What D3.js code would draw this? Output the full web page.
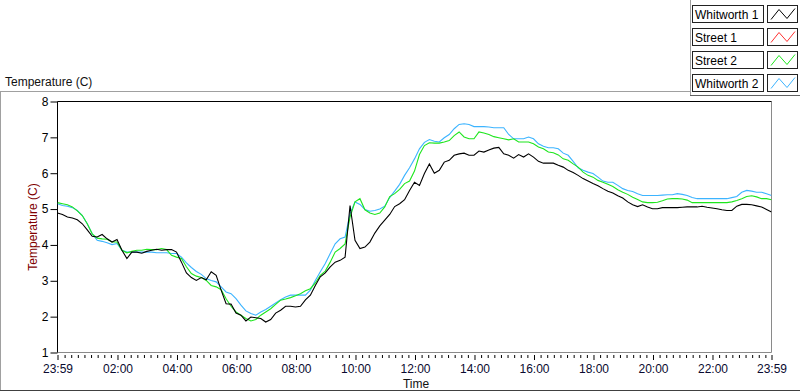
<!DOCTYPE html>
<html>
<head>
<meta charset="utf-8">
<script src="https://cdn.jsdelivr.net/npm/d3@7"></script>
<style>
body { margin: 0; background: #fff; }
text { font-family: "Liberation Sans", Arial, sans-serif; }
</style>
</head>
<body>
<div id="chart"></div>
<script>
// series, one sample every 10 minutes from 23:59
const seriesNames = ['Whitworth 1', 'Street 1', 'Street 2', 'Whitworth 2'];
const seriesColors = ['#000000', '#ff3030', '#1ee61e', '#3cb4ff'];
const startStamp = '2013-01-01 23:59';
const stepMinutes = 10;

const whitworth1 = [
    4.89, 4.85, 4.78, 4.75, 4.70, 4.59, 4.42, 4.24, 4.22, 4.29, 4.17, 4.08, 4.15, 3.85, 3.62, 3.80, 3.80, 3.77, 3.82, 3.85,
    3.88, 3.85, 3.87, 3.87, 3.80, 3.52, 3.22, 3.09, 3.01, 3.09,
    3.03, 3.25, 3.15, 2.74, 2.36, 2.35, 2.10, 2.04, 1.88, 1.99, 1.97, 1.95, 1.85, 1.92, 2.10, 2.18, 2.29, 2.29, 2.27, 2.29,
    2.47, 2.60, 2.87, 3.11, 3.22, 3.39, 3.52, 3.57, 3.66,
    5.10, 4.13, 3.90, 3.94, 4.08, 4.33, 4.53, 4.69, 4.85, 5.07, 5.15, 5.26, 5.52, 5.75, 5.66, 5.99, 6.26, 6.00, 6.08, 6.31,
    6.36, 6.50, 6.54, 6.56, 6.50, 6.50, 6.62, 6.59, 6.65, 6.70,
    6.72, 6.54, 6.50, 6.42, 6.52, 6.45, 6.54, 6.45, 6.33, 6.28, 6.28, 6.28, 6.22, 6.17, 6.08, 6.02, 5.94, 5.85, 5.78, 5.71,
    5.65, 5.57, 5.50, 5.45, 5.37, 5.31, 5.20, 5.12, 5.07,
    5.12, 5.06, 5.01, 5.01, 5.04, 5.04, 5.04, 5.04, 5.05, 5.06, 5.06, 5.06, 5.08, 5.05, 5.03, 5.01, 4.98, 4.96, 4.96, 5.08,
    5.13, 5.13, 5.12, 5.09, 5.06, 4.99, 4.92
];
const street1 = [];
const street2 = [
    5.18, 5.15, 5.12, 5.06, 4.95, 4.82, 4.59, 4.31, 4.19, 4.17, 4.16, 4.08, 4.08, 3.85, 3.78, 3.82, 3.85, 3.85, 3.88, 3.87,
    3.87, 3.90, 3.87, 3.71, 3.66, 3.62, 3.39, 3.20, 3.13, 3.09,
    3.01, 2.87, 2.83, 2.75, 2.50, 2.29, 2.13, 2.04, 1.95, 1.88, 1.92, 2.04, 2.13, 2.22, 2.34, 2.46, 2.49, 2.53, 2.58, 2.64,
    2.72, 2.78, 2.94, 3.15, 3.27, 3.52, 3.80, 3.90, 4.03,
    4.78, 5.20, 5.29, 4.98, 4.89, 4.85, 4.89, 5.06, 5.35, 5.43, 5.55, 5.71, 5.78, 6.06, 6.52, 6.77, 6.85, 6.84, 6.84, 6.87,
    6.91, 7.05, 7.15, 7.01, 6.96, 6.96, 7.15, 7.12, 7.08, 7.02,
    6.99, 6.96, 6.93, 6.96, 6.87, 6.87, 6.87, 6.82, 6.73, 6.68, 6.59, 6.57, 6.51, 6.40, 6.36, 6.26, 6.17, 6.03, 5.94, 5.89,
    5.80, 5.75, 5.69, 5.63, 5.54, 5.47, 5.41, 5.33, 5.27,
    5.20, 5.18, 5.18, 5.19, 5.23, 5.28, 5.29, 5.29, 5.28, 5.25, 5.18, 5.18, 5.18, 5.18, 5.18, 5.18, 5.18, 5.18, 5.20, 5.24,
    5.29, 5.35, 5.37, 5.34, 5.29, 5.29, 5.26
];
const whitworth2 = [
    5.15, 5.10, 5.08, 5.04, 4.96, 4.82, 4.59, 4.31, 4.13, 4.10, 4.06, 4.01, 4.04, 3.85, 3.80, 3.80, 3.80, 3.80, 3.80, 3.80,
    3.78, 3.78, 3.78, 3.76, 3.76, 3.66, 3.50, 3.37, 3.26, 3.18,
    3.06, 3.01, 2.97, 2.83, 2.69, 2.64, 2.50, 2.32, 2.16, 2.09, 2.04, 2.13, 2.20, 2.29, 2.38, 2.47, 2.55, 2.60, 2.60, 2.60,
    2.60, 2.74, 3.01, 3.25, 3.48, 3.76, 4.03, 4.17, 4.22,
    4.87, 5.20, 5.13, 4.99, 4.94, 4.96, 5.00, 5.08, 5.32, 5.50, 5.69, 5.94, 6.15, 6.40, 6.68, 6.86, 6.94, 6.89, 6.87, 6.99,
    7.08, 7.24, 7.36, 7.38, 7.36, 7.30, 7.30, 7.30, 7.29, 7.27,
    7.27, 7.27, 7.08, 6.96, 6.96, 6.96, 7.01, 6.96, 6.82, 6.75, 6.71, 6.71, 6.68, 6.56, 6.50, 6.33, 6.15, 6.08, 6.03, 5.99,
    5.89, 5.78, 5.75, 5.75, 5.66, 5.57, 5.52, 5.49, 5.43,
    5.38, 5.38, 5.38, 5.38, 5.39, 5.40, 5.40, 5.43, 5.41, 5.38, 5.32, 5.29, 5.29, 5.29, 5.29, 5.29, 5.29, 5.29, 5.32, 5.35,
    5.47, 5.52, 5.50, 5.47, 5.47, 5.43, 5.38
];

const yTicks = [1, 2, 3, 4, 5, 6, 7, 8];
const xTickLabels = ['23:59', '02:00', '04:00', '06:00', '08:00', '10:00', '12:00', '14:00',
    '16:00', '18:00', '20:00', '22:00', '23:59'];

const width = 800, height = 392;
const plot = { left: 57.5, right: 771.5, top: 101.5, bottom: 352.5 };

const parse = d3.timeParse('%Y-%m-%d %H:%M');
const t0 = parse(startStamp);
const dayAfter = '2013-01-02 ';
const tickTimes = xTickLabels.map((l, i) => i === 0 ? t0 : parse(dayAfter + l));
const t1 = tickTimes[tickTimes.length - 1];

const svg = d3.select('#chart').append('svg')
    .attr('width', width)
    .attr('height', height);

const x = d3.scaleTime().domain([t0, t1]).range([plot.left, plot.right]);
const y = d3.scaleLinear().domain([1, 8]).range([plot.bottom, plot.top]);

// outer frame
svg.append('line').attr('x1', 0).attr('x2', 690).attr('y1', 91.5).attr('y2', 91.5).attr('stroke', '#a0a0a0');
svg.append('line').attr('x1', 0.5).attr('x2', 0.5).attr('y1', 91).attr('y2', 391).attr('stroke', '#a0a0a0');
svg.append('line').attr('x1', 0).attr('x2', width).attr('y1', 390.5).attr('y2', 390.5).attr('stroke', '#404040');

svg.append('text').attr('x', 5).attr('y', 86).attr('font-size', 12).attr('fill', '#111').text('Temperature (C)');

// plot box
svg.append('line').attr('x1', plot.left).attr('x2', plot.right).attr('y1', plot.bottom).attr('y2', plot.bottom).attr('stroke', '#8a8a8a');
svg.append('line').attr('x1', plot.right).attr('x2', plot.right).attr('y1', plot.top).attr('y2', plot.bottom).attr('stroke', '#8a8a8a');
svg.append('line').attr('x1', plot.left).attr('x2', plot.right).attr('y1', plot.top).attr('y2', plot.top).attr('stroke', '#000');
svg.append('line').attr('x1', plot.left).attr('x2', plot.left).attr('y1', plot.top).attr('y2', plot.bottom).attr('stroke', '#000');

// Y axis
const yAxis = d3.axisLeft(y).tickValues(yTicks).tickSize(7).tickPadding(2).tickFormat(d3.format('d'));
const yg = svg.append('g').attr('transform', `translate(${plot.left},0)`).call(yAxis);
yg.select('.domain').remove();
yg.selectAll('text').attr('font-size', 12).attr('fill', '#000').style('font-family', '"Liberation Sans", Arial, sans-serif');
yg.selectAll('line').attr('stroke', '#000');

svg.append('text')
    .attr('transform', `translate(37,${(plot.top + plot.bottom) / 2}) rotate(-90)`)
    .attr('text-anchor', 'middle')
    .attr('font-size', 12)
    .attr('fill', '#800000')
    .text('Temperature (C)');

// X axis: majors every 2h plus end points, minors between
const minorTimes = [];
const midnight = parse(dayAfter + '00:00');
for (let i = 1; i < 9 * 12; i++) {
    if (i % 9 === 0) continue;
    minorTimes.push(new Date(+midnight + i * 800000));
}
const xg = svg.append('g').attr('transform', `translate(0,${plot.bottom + 2.5})`);
xg.call(d3.axisBottom(x).tickValues(minorTimes).tickSize(3).tickFormat(''));
xg.select('.domain').remove();
const xg2 = svg.append('g').attr('transform', `translate(0,${plot.bottom + 2.5})`);
xg2.call(d3.axisBottom(x).tickValues(tickTimes).tickSize(5).tickPadding(4)
    .tickFormat((d, i) => xTickLabels[i]));
xg2.select('.domain').remove();
svg.selectAll('.tick line').attr('stroke', '#000');
xg2.selectAll('text').attr('font-size', 12).attr('fill', '#0a0a30').style('font-family', '"Liberation Sans", Arial, sans-serif');

svg.append('text').attr('x', 416).attr('y', 388).attr('text-anchor', 'middle')
    .attr('font-size', 12).attr('fill', '#111').text('Time');

// lines
svg.append('clipPath').attr('id', 'clip').append('rect')
    .attr('x', plot.left).attr('y', plot.top).attr('width', plot.right - plot.left).attr('height', plot.bottom - plot.top);

const allSeries = [whitworth1, street1, street2, whitworth2];
const line = d3.line()
    .x((d, i) => x(d3.timeMinute.offset(t0, i * stepMinutes)))
    .y(d => y(d));

const lineG = svg.append('g').attr('clip-path', 'url(#clip)');
[3, 2, 1, 0].forEach(s => {
    if (!allSeries[s].length) return;
    lineG.append('path')
        .datum(allSeries[s])
        .attr('fill', 'none')
        .attr('stroke', seriesColors[s])
        .attr('stroke-width', 1.1)
        .attr('d', line);
});

// legend
svg.append('line').attr('x1', 690.5).attr('x2', 690.5).attr('y1', 0).attr('y2', 96).attr('stroke', '#a0a0a0');
svg.append('line').attr('x1', 690).attr('x2', width).attr('y1', 95.5).attr('y2', 95.5).attr('stroke', '#606060');

const swatch = d3.line();
seriesNames.forEach((name, i) => {
    const top = 5.5 + i * 23;
    const g = svg.append('g');
    g.append('rect').attr('x', 692.5).attr('y', top).attr('width', 71).attr('height', 17)
        .attr('fill', '#fff').attr('stroke', '#222');
    g.append('text').attr('x', 695).attr('y', top + 13).attr('font-size', 12).attr('fill', '#000').text(name);
    g.append('rect').attr('x', 767.5).attr('y', top).attr('width', 30).attr('height', 17)
        .attr('fill', '#fff').attr('stroke', '#222');
    g.append('path')
        .attr('d', swatch([[771, top + 14], [779, top + 4], [787, top + 13], [795, top + 3]]))
        .attr('fill', 'none').attr('stroke', seriesColors[i]).attr('stroke-width', 1);
});
</script>
</body>
</html>
